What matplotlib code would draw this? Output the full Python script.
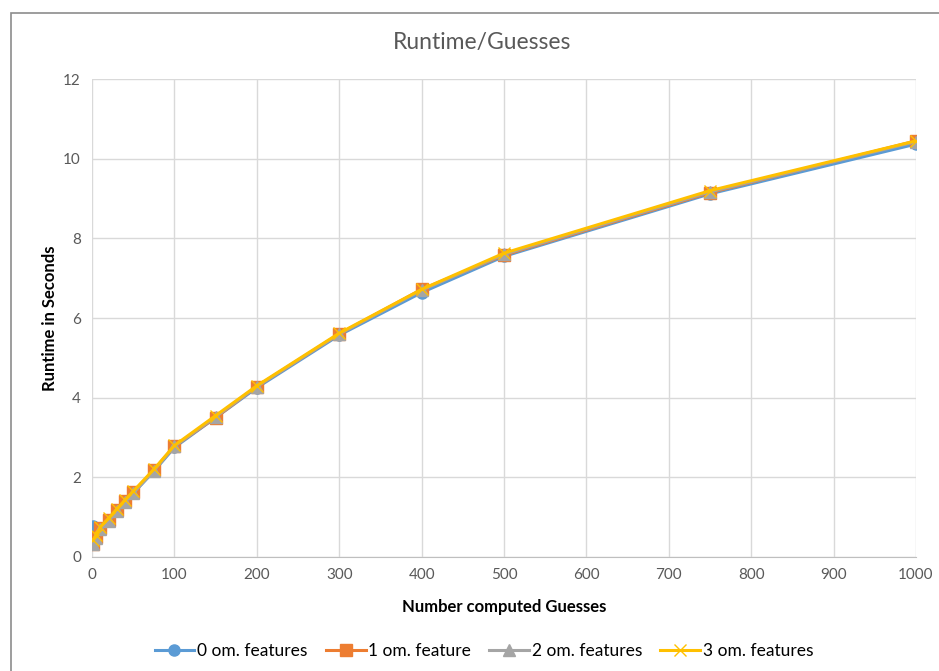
import numpy as np
import matplotlib.pyplot as plt
from matplotlib.patches import Rectangle

plt.rcParams['font.family'] = ['Lato', 'DejaVu Sans']

# donnees
guesses = [1, 5, 10, 20, 30, 40, 50, 75, 100, 150, 200, 300, 400, 500, 750, 1000]
om0 = [0.78, 0.45, 0.68, 0.90, 1.15, 1.38, 1.60, 2.15, 2.75, 3.50, 4.25, 5.57, 6.64, 7.55, 9.12, 10.37]
om1 = [0.33, 0.50, 0.72, 0.93, 1.17, 1.40, 1.62, 2.18, 2.78, 3.50, 4.28, 5.60, 6.72, 7.58, 9.15, 10.45]
om2 = [0.33, 0.47, 0.70, 0.90, 1.15, 1.38, 1.60, 2.17, 2.78, 3.52, 4.28, 5.60, 6.70, 7.60, 9.17, 10.43]
om3 = [0.42, 0.55, 0.75, 0.97, 1.20, 1.43, 1.65, 2.20, 2.80, 3.55, 4.30, 5.62, 6.72, 7.63, 9.20, 10.45]
labels = ['0 om. features', '1 om. feature', '2 om. features', '3 om. features']

fig = plt.figure(figsize=(9.39, 6.71), dpi=100)
ax = fig.add_axes([0.098, 0.17, 0.8775, 0.712])

# cadre du graphique (style excel)
fig.patches.append(Rectangle((11/939, -0.1), 1.2, 1.1 - 13/671, transform=fig.transFigure,
                             fill=False, edgecolor='#8c8c8c', linewidth=1.2))

ax.plot(guesses, om0, color='#5B9BD5', lw=2.2, marker='o', ms=8, label=labels[0])
ax.plot(guesses, om1, color='#ED7D31', lw=2.2, marker='s', ms=8, label=labels[1])
ax.plot(guesses, om2, color='#A5A5A5', lw=2.2, marker='^', ms=8.5, label=labels[2])
ax.plot(guesses, om3, color='#FFC000', lw=2.2, marker='x', ms=8, mew=1, label=labels[3])

ax.set_xlim(0, 1000)
ax.set_ylim(0, 12)
ax.set_xticks(np.arange(0, 1001, 100))
ax.set_yticks(np.arange(0, 13, 2))
ax.grid(True, color='#d9d9d9', lw=1)
ax.set_axisbelow(True)
for s in ['top', 'right', 'left']:
    ax.spines[s].set_visible(False)
ax.spines['bottom'].set_color('#bfbfbf')
ax.tick_params(length=0, labelsize=11, colors='#595959', pad=8)

fig.text(482/939, 1 - 43/671, 'Runtime/Guesses', fontsize=16.5, color='#595959',
         ha='center', va='center')
ax.set_xlabel('Number computed Guesses', fontsize=12, fontweight='bold', labelpad=12)
ax.set_ylabel('Runtime in Seconds', fontsize=12, fontweight='bold', labelpad=4)

fig.legend(loc='center', bbox_to_anchor=(484/939, 1 - 651/671), ncol=4, frameon=False,
           fontsize=12.5, handlelength=2.3, columnspacing=1.05, handletextpad=0.15)

fig.savefig('out.png', dpi=100)
